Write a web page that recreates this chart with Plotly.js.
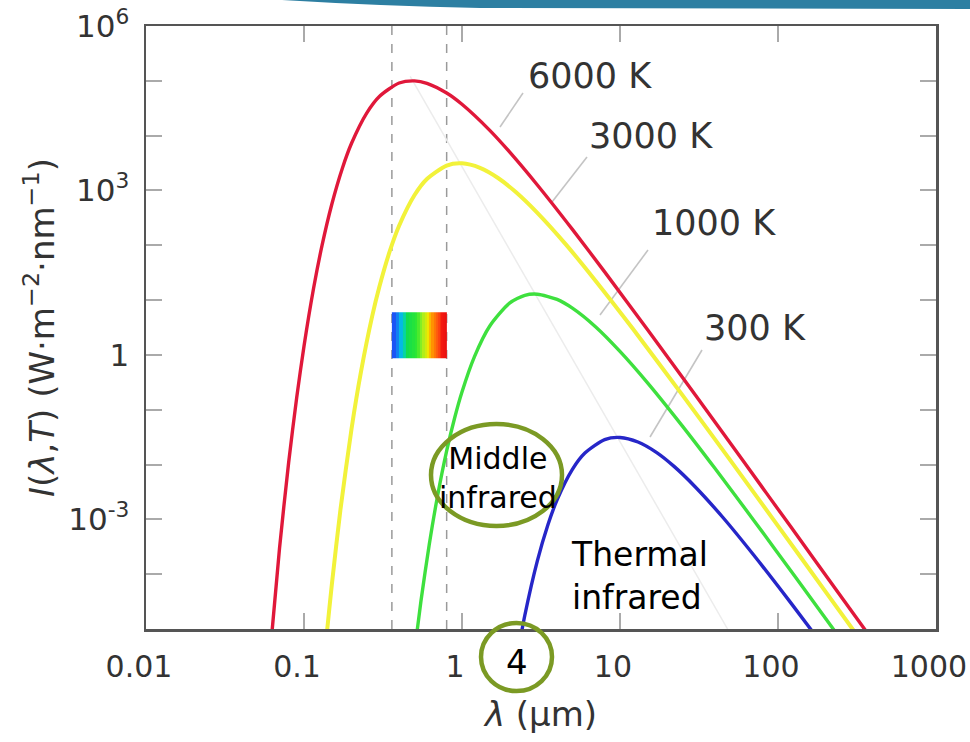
<!DOCTYPE html>
<html>
<head>
<meta charset="utf-8">
<script src="https://cdn.plot.ly/plotly-3.0.1.min.js"></script>
<style>html,body{margin:0;padding:0;background:#fff;}#chart{width:970px;height:742px;}</style>
</head>
<body>
<div id="chart"></div>
<script>
// ---- data (wavelength in µm, intensity in W·m^-2·nm^-1) ----
const redLambda = [0.06, 0.07, 0.08, 0.09, 0.10, 0.115, 0.13, 0.15, 0.175, 0.2, 0.25, 0.3, 0.4, 0.5, 0.6, 0.8, 1.0, 1.5, 2, 3, 5, 8, 15, 30, 60, 120, 250, 450];
const redI      = [2.11e-6, 2.95e-4, 0.0110, 0.170, 1.44, 16.4, 98.4, 561, 2550, 7260, 2.61e4, 5.19e4, 9.12e4, 9.98e4, 9.02e4, 6.00e4, 3.74e4, 1.25e4, 5050, 1260, 195, 32.7, 2.84, 0.185, 0.0118, 7.45e-4, 3.97e-5, 3.79e-6];

const yellowLambda = [0.13, 0.14, 0.15, 0.17, 0.2, 0.23, 0.27, 0.3, 0.35, 0.4, 0.5, 0.6, 0.8, 1.0, 1.3, 1.7, 2.2, 3, 4.5, 7, 12, 25, 50, 100, 200, 350];
const yellowI      = [9.6e-7, 9.2e-6, 6.4e-5, 1.48e-3, 0.0451, 0.511, 5.04, 17.5, 79.6, 227, 817, 1620, 2850, 3120, 2580, 1670, 925, 390, 107, 22.6, 3.06, 0.181, 0.0119, 7.62e-4, 4.82e-5, 5.16e-6];

const greenLambda = [0.5, 0.55, 0.62, 0.7, 0.8, 0.9, 1.0, 1.2, 1.5, 2, 2.5, 3, 4, 5, 7, 10, 15, 25, 40, 70, 130, 250];
const greenI      = [3.81e-6, 3.24e-5, 3.41e-4, 2.64e-3, 0.0177, 0.0723, 0.211, 0.933, 3.37, 8.79, 12.2, 12.8, 10.3, 7.13, 3.27, 1.16, 0.306, 0.0492, 8.45e-3, 9.77e-4, 8.61e-5, 6.46e-6];

const blueLambda = [2.2, 2.5, 3, 3.5, 4, 5, 6, 8, 10, 13, 17, 22, 30, 45, 70, 120, 170];
const blueI      = [2.47e-6, 1.78e-5, 1.75e-4, 7.98e-4, 2.27e-3, 8.17e-3, 0.0162, 0.0285, 0.0312, 0.0258, 0.0167, 9.25e-3, 3.90e-3, 1.07e-3, 2.26e-4, 3.06e-5, 8.09e-6];

// faint line through the peaks
const wienLambda = [0.47, 48];
const wienI      = [1.2e5, 1.0e-5];

// visible band (rainbow) and its limits
const visibleEdges = [0.36,0.38,0.40,0.42,0.44,0.46,0.48,0.50,0.52,0.54,0.56,0.58,0.60,0.62,0.64,0.66,0.68,0.70,0.72,0.74,0.76,0.78,0.80];
const visibleZ = [[0.37,0.39,0.41,0.43,0.45,0.47,0.49,0.51,0.53,0.55,0.57,0.59,0.61,0.63,0.65,0.67,0.69,0.71,0.73,0.75,0.77,0.79]];
const visibleIRange = [0.88, 6.0];
const visibleLimits = [0.36, 0.80];

// tick labels
const xTickVals = [0.01, 0.1, 1, 10, 100, 1000];
const xTickText = ['0.01', '0.1', '1', '10', '100', '1000'];
const yTickVals = [1e-3, 1, 1e3, 1e6];
const yTickText = ['10<sup>-3</sup>', '1', '10<sup>3</sup>', '10<sup>6</sup>'];
const yMinorVals = [1e-5,1e-4,1e-2,1e-1,1e1,1e2,1e4,1e5];

const seriesNames = ['6000 K', '3000 K', '1000 K', '300 K'];

// ---- plot ----
const FONT = 'DejaVu Sans, Arial, sans-serif';
const lineW = 3.4;
const smooth = 0.7;

const traces = [
  {type:'scatter', mode:'lines', x: wienLambda, y: wienI, line:{color:'#ececec', width:1.5}, hoverinfo:'skip', showlegend:false},
  {type:'heatmap', x: visibleEdges, y: visibleIRange, z: visibleZ, zmin:0.36, zmax:0.80, showscale:false, hoverinfo:'skip',
   colorscale:[[0,'#1f4cf5'],[0.045,'#1a5cf5'],[0.09,'#0aa0f0'],[0.136,'#00d0d8'],[0.193,'#10dc50'],[0.364,'#30e830'],[0.455,'#a0f020'],[0.568,'#f0e800'],[0.648,'#ff9800'],[0.773,'#ff5010'],[0.886,'#f41a10'],[1,'#e81010']]},
  {type:'scatter', mode:'lines', name: seriesNames[3], x: blueLambda, y: blueI, line:{color:'#2626c8', width:lineW, shape:'spline', smoothing:smooth}},
  {type:'scatter', mode:'lines', name: seriesNames[2], x: greenLambda, y: greenI, line:{color:'#3ee03e', width:lineW, shape:'spline', smoothing:smooth}},
  {type:'scatter', mode:'lines', name: seriesNames[1], x: yellowLambda, y: yellowI, line:{color:'#f2f23a', width:lineW+0.6, shape:'spline', smoothing:smooth}},
  {type:'scatter', mode:'lines', name: seriesNames[0], x: redLambda, y: redI, line:{color:'#e0183a', width:lineW, shape:'spline', smoothing:smooth}}
];

function px2p(px){ return (px-146)/790; }
function py2p(py){ return (629-py)/603; }

const olive = '#7b9a24';
const leaderColor = '#c4c4c4';

const shapes = [
  {type:'line', xref:'x', yref:'paper', x0: visibleLimits[0], x1: visibleLimits[0], y0:0, y1:1, line:{color:'#9a9a9a', width:1.5, dash:'dash'}, layer:'below'},
  {type:'line', xref:'x', yref:'paper', x0: visibleLimits[1], x1: visibleLimits[1], y0:0, y1:1, line:{color:'#9a9a9a', width:1.5, dash:'dash'}, layer:'below'},
  // leader lines
  {type:'line', xref:'paper', yref:'paper', x0:px2p(523), y0:py2p(93),  x1:px2p(500), y1:py2p(127), line:{color:leaderColor, width:1.6}, layer:'below'},
  {type:'line', xref:'paper', yref:'paper', x0:px2p(587), y0:py2p(157), x1:px2p(552), y1:py2p(202), line:{color:leaderColor, width:1.6}, layer:'below'},
  {type:'line', xref:'paper', yref:'paper', x0:px2p(648), y0:py2p(250), x1:px2p(600), y1:py2p(315), line:{color:leaderColor, width:1.6}, layer:'below'},
  {type:'line', xref:'paper', yref:'paper', x0:px2p(702), y0:py2p(350), x1:px2p(650), y1:py2p(437), line:{color:leaderColor, width:1.6}, layer:'below'},
  // ellipses
  {type:'circle', xref:'paper', yref:'paper', x0:px2p(431), x1:px2p(562), y0:py2p(526), y1:py2p(424), line:{color:olive, width:4.5}},
  {type:'circle', xref:'paper', yref:'paper', x0:px2p(481), x1:px2p(552), y0:py2p(691), y1:py2p(623), line:{color:olive, width:4.5}},
  // decorative band at the top
  {type:'path', xref:'paper', yref:'paper', path:'M '+px2p(282)+','+py2p(0)+' Q '+px2p(380)+','+py2p(6)+' '+px2p(480)+','+py2p(8)+' L '+px2p(975)+','+py2p(9)+' L '+px2p(975)+','+py2p(-5)+' L '+px2p(282)+','+py2p(-5)+' Z',
   fillcolor:'#2d7fa2', line:{width:0}}
];

function ann(px, py, text, size, color, extra){
  return Object.assign({xref:'paper', yref:'paper', x:px2p(px), y:py2p(py), xanchor:'center', yanchor:'middle',
    text:text, showarrow:false, font:{family:FONT, size:size, color:color}}, extra || {});
}

const annotations = [
  ann(590, 76, seriesNames[0], 35, '#333'),
  ann(651, 136, seriesNames[1], 35, '#333'),
  ann(714, 223, seriesNames[2], 35, '#333'),
  ann(755, 328, seriesNames[3], 35, '#333'),
  ann(498, 478, 'Middle<br>infrared', 30, '#000', {align:'center'}),
  ann(569, 576, 'Thermal<br>infrared', 33, '#000', {xanchor:'left', align:'left'}),
  ann(517, 662, '4', 34, '#000')
];

const layout = {
  width:970, height:742,
  margin:{l:146, r:34, t:26, b:113},
  paper_bgcolor:'#fff', plot_bgcolor:'#fff',
  showlegend:false,
  font:{family:FONT, color:'#333'},
  xaxis:{
    type:'log', range:[-2, 3.0004], tickvals:xTickVals, ticktext:xTickText,
    ticks:'inside', ticklen:16, tickwidth:2, tickcolor:'#aaa',
    showline:true, linecolor:'#555', linewidth:2.5, mirror:'ticks',
    showgrid:false, zeroline:false,
    tickfont:{family:FONT, size:30, color:'#333'},
    ticklabelstandoff:9, ticklabelshift:-7, ticklabeloverflow:'allow',
    title:{text:'<i>λ</i> (μm)', font:{family:FONT, size:34, color:'#333'}, standoff:20}
  },
  yaxis:{
    type:'log', range:[-5,6], tickvals:yTickVals, ticktext:yTickText,
    ticks:'inside', ticklen:16, tickwidth:2, tickcolor:'#aaa',
    minor:{tickvals:yMinorVals, ticks:'inside', ticklen:16, tickwidth:2, tickcolor:'#aaa', showgrid:false},
    showline:true, linecolor:'#555', linewidth:2.5, mirror:'ticks',
    showgrid:false, zeroline:false,
    tickfont:{family:FONT, size:31, color:'#333'},
    ticklabelstandoff:8,
    title:{text:'<i>I</i>(<i>λ</i>,<i>T</i>) (W·m<sup>−2</sup>·nm<sup>−1</sup>)', font:{family:FONT, size:34, color:'#333'}, standoff:4}
  },
  shapes: shapes,
  annotations: annotations
};

Plotly.newPlot('chart', traces, layout, {staticPlot:true, displayModeBar:false});
</script>
</body>
</html>
